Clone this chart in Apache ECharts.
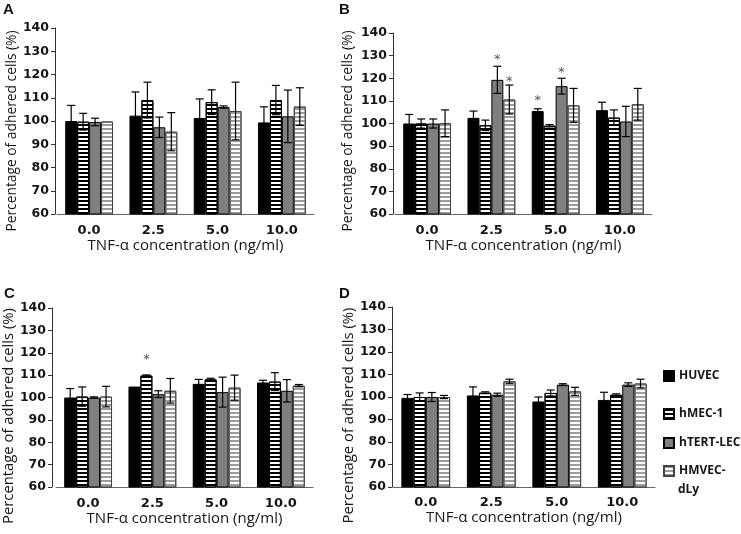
<!DOCTYPE html>
<html><head><meta charset="utf-8">
<script src="https://cdn.jsdelivr.net/npm/echarts@6/dist/echarts.min.js"></script>
<style>html,body{margin:0;padding:0;background:#fff}#c{width:741px;height:534px}</style>
</head><body><div id="c"></div>
<script>
// ---- data ----
const categories = ['0.0', '2.5', '5.0', '10.0'];
const seriesNames = ['HUVEC', 'hMEC-1', 'hTERT-LEC', 'HMVEC-dLy'];
const yTicks = { min: 60, max: 140, interval: 10 };

// rows = series (HUVEC, hMEC-1, hTERT-LEC, HMVEC-dLy), columns = categories
const meanA = [[100, 102.3, 101.3, 99.4], [99.7, 109, 108.1, 109], [99.6, 97.3, 106, 102], [99.8, 95.4, 104.3, 106.2]];
const errA  = [[6.7, 10.2, 8.2, 6.7], [3.6, 7.7, 5.3, 6.3], [1.6, 4.4, 0.5, 11.3], [0, 8.2, 12.4, 8.1]];
const meanB = [[100, 102.5, 105.5, 105.9], [100, 99.2, 99, 102.6], [100, 119.3, 116.5, 100.9], [100.1, 110.6, 108, 108.5]];
const errB  = [[4, 3, 1, 3.5], [2, 2.3, 0.5, 3.4], [2, 6, 3.5, 6.7], [5.9, 6.4, 7.5, 7]];
const meanC = [[100, 104.9, 106.1, 106.7], [100.4, 109.8, 108.1, 107.1], [100, 101.5, 102.4, 103], [100.4, 103, 104.4, 105.3]];
const errC  = [[4, 0, 2, 1], [4.3, 0.3, 0.5, 4], [0.3, 1.5, 6.7, 5], [4.6, 5.5, 5.6, 0.5]];
const meanD = [[99.6, 100.7, 98, 98.7], [100, 101.9, 101.8, 101], [100, 101, 105.5, 105.5], [100, 107, 102.5, 106]];
const errD  = [[1.5, 3.8, 2, 3.4], [1.8, 0.4, 1.3, 0.4], [2, 0.7, 0.4, 0.8], [0.7, 0.9, 1.8, 1.9]];
// significance stars: [categoryIndex, seriesIndex, yValue]
const starsA = [];
const starsB = [[1, 2, 129.4], [1, 3, 119.9], [2, 0, 111.3], [2, 2, 123.8]];
const starsC = [[1, 1, 118.2]];
const starsD = [];
const panelLetters = ['A', 'B', 'C', 'D'];
const yName = 'Percentage of adhered cells (%)';
const xName = 'TNF-\u03b1 concentration (ng/ml)';
const legendLabels = ['HUVEC', 'hMEC-1', 'hTERT-LEC', 'HMVEC-'];
const legendWrap = 'dLy';

// ---- styling / layout ----
const CAT_GAP = 0.256;
const TXT = '#151515';
const seriesStyles = [
  { color: '#000', borderColor: '#000', borderWidth: 1 },
  { color: '#fff', borderColor: '#000', borderWidth: 1,
    decal: { symbol: 'rect', symbolSize: 1, dashArrayX: [1, 0], dashArrayY: [2, 1.5], rotation: 0, color: '#000' } },
  { color: '#7f7f7f', borderColor: '#000', borderWidth: 1 },
  { color: '#fff', borderColor: '#444', borderWidth: 1,
    decal: { symbol: 'rect', symbolSize: 1, dashArrayX: [1, 0], dashArrayY: [1.5, 1.5], rotation: 0, color: '#9c9c9c' } }
];
const panels = [
  { mean: meanA, err: errA, stars: starsA, grid: { left: 57, top: 28, right: 427, bottom: 320 }, yOff: 2, yGap: 34, yShift: 20, yFont: 13.8, xGap: 20, xMargin: 10 },
  { mean: meanB, err: errB, stars: starsB, grid: { left: 395, top: 33, right: 89, bottom: 320 }, yOff: 2, yGap: 38, yShift: 15, yFont: 13.8, xGap: 20, xMargin: 10 },
  { mean: meanC, err: errC, stars: starsC, grid: { left: 54, top: 308, right: 428, bottom: 47 }, yOff: 4, yGap: 31, yShift: 37, yFont: 14.8, xGap: 24, xMargin: 10 },
  { mean: meanD, err: errD, stars: starsD, grid: { left: 393, top: 307, right: 86, bottom: 47 }, yOff: 1, yGap: 36, yShift: 37, yFont: 14.8, xGap: 20, xMargin: 9 }
];
const titlePos = [[3, 2], [339, 2], [4, 286], [339, 286]];

function barCenter(api, ci, si) {
  const band = api.size([1, 0])[0];
  const bw = band * (1 - CAT_GAP) / 4;
  return api.coord([ci, 100])[0] + (si - 1.5) * bw;
}
function errRender(params, api) {
  const ci = api.value(0), si = api.value(1);
  const x = barCenter(api, ci, si);
  const yl = api.coord([ci, api.value(2)])[1];
  const yh = api.coord([ci, api.value(3)])[1];
  const hw = 4;
  const st = { stroke: '#000', lineWidth: 1.2 };
  return { type: 'group', children: [
    { type: 'line', shape: { x1: x, y1: yl, x2: x, y2: yh }, style: st },
    { type: 'line', shape: { x1: x - hw, y1: yh, x2: x + hw, y2: yh }, style: st },
    { type: 'line', shape: { x1: x - hw, y1: yl, x2: x + hw, y2: yl }, style: st }
  ] };
}
function starRender(params, api) {
  const ci = api.value(0), si = api.value(1);
  const x = barCenter(api, ci, si);
  const y = api.coord([ci, api.value(2)])[1];
  return { type: 'text', style: { text: '*', x: x, y: y + 3, fill: '#555', font: '13px "DejaVu Sans"', align: 'center', verticalAlign: 'middle' } };
}

const titles = panelLetters.map((t, i) => ({ text: t, left: titlePos[i][0], top: titlePos[i][1], padding: 0,
  textStyle: { fontFamily: 'Liberation Sans', fontWeight: 'bold', fontSize: 15, color: '#111' } }));
titles.push({ text: legendWrap, left: 678, top: 484, padding: 0,
  textStyle: { fontFamily: 'Open Sans', fontWeight: 'bold', fontSize: 12, color: TXT } });

const option = {
  backgroundColor: '#fff',
  animation: false,
  title: titles,
  grid: panels.map(p => p.grid),
  xAxis: panels.map((p, i) => ({
    type: 'category', gridIndex: i, data: categories,
    name: xName, nameLocation: 'middle', nameGap: p.xGap,
    nameTextStyle: { fontFamily: 'Open Sans', fontSize: 15, color: TXT },
    axisLine: { lineStyle: { color: '#666', width: 1 } },
    axisTick: { show: false },
    axisLabel: { margin: p.xMargin, fontFamily: 'DejaVu Sans', fontWeight: 'bold', fontSize: 13, color: TXT }
  })),
  yAxis: panels.map((p, i) => ({
    type: 'value', gridIndex: i, min: yTicks.min, max: yTicks.max, interval: yTicks.interval, offset: p.yOff,
    name: yName, nameLocation: 'middle', nameGap: p.yGap, nameRotate: 90,
    nameTextStyle: { fontFamily: 'Open Sans', fontSize: p.yFont, color: TXT, padding: [0, p.yShift, 0, 0] },
    axisLine: { show: true, lineStyle: { color: '#333', width: 1 } },
    axisTick: { show: true, inside: false, length: 4, lineStyle: { color: '#333' } },
    splitLine: { show: false },
    axisLabel: { margin: 6, fontFamily: 'DejaVu Sans', fontWeight: 'bold', fontSize: 12.5, color: TXT }
  })),
  legend: seriesNames.map((n, k) => {
    const tops = [370, 408, 437, 465];
    return { data: [n], left: 663, top: tops[k], orient: 'vertical', padding: 0, itemWidth: 10, itemHeight: 10,
      icon: 'rect', selectedMode: false, formatter: () => legendLabels[k],
      textStyle: { fontFamily: 'Open Sans', fontWeight: 'bold', fontSize: 12, color: TXT } };
  }),
  series: []
};

panels.forEach((p, gi) => {
  seriesNames.forEach((n, si) => {
    option.series.push({
      type: 'bar', name: n, xAxisIndex: gi, yAxisIndex: gi,
      data: p.mean[si], barGap: '0%', barCategoryGap: (CAT_GAP * 100) + '%',
      itemStyle: seriesStyles[si]
    });
  });
  const ed = [];
  seriesNames.forEach((n, si) => categories.forEach((c, ci) => {
    const m = p.mean[si][ci], e = p.err[si][ci];
    if (e > 0) ed.push([ci, si, m - e, m + e]);
  }));
  option.series.push({ type: 'custom', xAxisIndex: gi, yAxisIndex: gi, renderItem: errRender, data: ed, z: 5, silent: true,
    encode: { x: 0, y: [2, 3] } });
  if (p.stars.length) {
    option.series.push({ type: 'custom', xAxisIndex: gi, yAxisIndex: gi, renderItem: starRender, data: p.stars, z: 6, silent: true,
      encode: { x: 0, y: 2 } });
  }
});

const chart = echarts.init(document.getElementById('c'), null, { renderer: 'canvas' });
chart.setOption(option);
</script></body></html>
